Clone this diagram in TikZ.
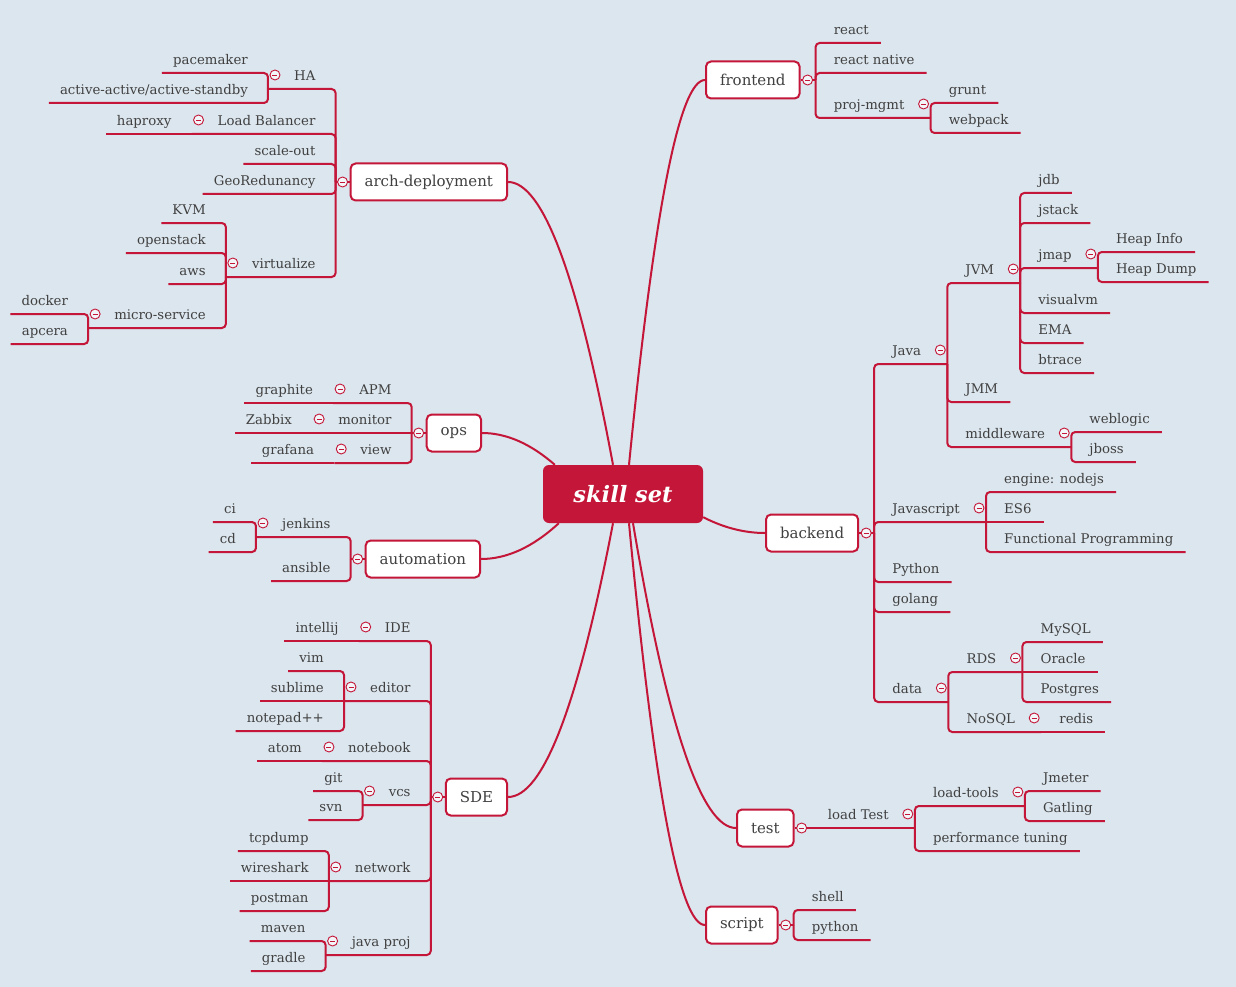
\documentclass[tikz,border=0pt]{standalone}
\usepackage{fontspec}
\setmainfont{DejaVu Serif}
\usetikzlibrary{calc}
\usetikzlibrary{positioning}

\definecolor{bg}{RGB}{220,230,238}
\definecolor{crim}{RGB}{196,22,56}
\definecolor{ink}{RGB}{64,64,64}

\tikzset{
  topic/.style={inner xsep=0pt, inner ysep=5pt, text height=10pt, text depth=3pt,
    text=ink, font=\fontsize{13.3}{15}\selectfont},
  branch/.style={draw=crim, line width=2pt, fill=white, rounded corners=5pt,
    minimum height=37pt, inner xsep=14pt, text=ink, font=\fontsize{15}{17}\selectfont},
  hub/.style={fill=crim, rounded corners=6pt, minimum width=160pt, minimum height=58pt,
    text=white, font=\fontsize{22.5}{24}\selectfont\bfseries\itshape},
  link/.style={draw=crim, line width=2pt},
  elbow/.style={link, rounded corners=4pt},
  fold/.style={circle, draw=crim, line width=0.9pt, fill=white!65!bg, minimum size=10pt,
    inner sep=0pt, path picture={\draw[crim, line width=0.9pt]
      ([xshift=-2.5pt]path picture bounding box.center) --
      ([xshift=2.5pt]path picture bounding box.center);}}
}

% main branches: name, x of inner edge, y, text
\newcommand{\mainR}[4]{%
  \node[branch, anchor=west] (#1) at (#2,#3) {#4};
  \coordinate (#1b) at ([xshift=15pt]#1.east);
  \draw[link] (#1.east) -- (#1b);
  \node[fold] (#1f) at ([xshift=7pt]#1.east) {};}
\newcommand{\mainL}[4]{%
  \node[branch, anchor=east] (#1) at (#2,#3) {#4};
  \coordinate (#1b) at ([xshift=-14pt]#1.west);
  \draw[link] (#1.west) -- (#1b);
  \node[fold] (#1f) at ([xshift=-7pt]#1.west) {};}

% topics: [-- when on the parent's line], bus, name, y of underline, text
\newcommand{\kidR}[5][|-]{%
  \path (#2 |- 0,#4) ++(18pt,0) node[topic, anchor=south west] (#3) {#5};
  \draw[elbow] (#2) #1 ([xshift=12pt]#3.south east);}
\newcommand{\subR}[5][|-]{%
  \path (#2 |- 0,#4) ++(18pt,0) node[topic, anchor=south west] (#3) {#5};
  \coordinate (#3b) at ([xshift=26pt]#3.south east);
  \draw[elbow] (#2) #1 (#3b);
  \node[fold] (#3f) at ([shift={(-7pt,14pt)}]#3b) {};}
\newcommand{\kidL}[5][|-]{%
  \path (#2 |- 0,#4) ++(-20pt,0) node[topic, anchor=south east] (#3) {#5};
  \draw[elbow] (#2) #1 ([xshift=-11pt]#3.south west);}
\newcommand{\subL}[5][|-]{%
  \path (#2 |- 0,#4) ++(-20pt,0) node[topic, anchor=south east] (#3) {#5};
  \coordinate (#3b) at ([xshift=-26pt]#3.south west);
  \draw[elbow] (#2) #1 (#3b);
  \node[fold] (#3f) at ([shift={(7pt,14pt)}]#3b) {};}

% curve from the centre to a branch
\newcommand{\spoke}[2]{%
  \coordinate (qm) at ($(#1)!.5!(#2)$);
  \coordinate (qq) at (qm |- #2);
  \draw[link] (#1) .. controls ($(#1)!.667!(qq)$) and ($(#2)!.667!(qq)$) .. (#2);}

\begin{document}
\begin{tikzpicture}[x=1pt,y=-1pt]
\useasboundingbox[fill=bg] (0,0) rectangle (1236,987);

\node[hub] (hub) at (623,494) {skill set};

% right side
\mainR{front}{705}{80}{frontend}
\kidR{frontb}{react}{43}{react}
\kidR{frontb}{rnative}{73}{react native}
\subR{frontb}{pm}{118}{proj-mgmt}
\kidR{pmb}{grunt}{103}{grunt}
\kidR{pmb}{webpack}{133}{webpack}

\mainR{back}{765}{533}{backend}
\subR{backb}{java}{364}{Java}
\subR{javab}{jvm}{283}{JVM}
\kidR{jvmb}{jdb}{193}{jdb}
\kidR{jvmb}{jstack}{223}{jstack}
\subR{jvmb}{jmap}{268}{jmap}
\kidR{jmapb}{hinfo}{252}{Heap Info}
\kidR{jmapb}{hdump}{282}{Heap Dump}
\kidR{jvmb}{visualvm}{313}{visualvm}
\kidR{jvmb}{ema}{343}{EMA}
\kidR{jvmb}{btrace}{373}{btrace}
\kidR{javab}{jmm}{402}{JMM}
\subR{javab}{mw}{447}{middleware}
\kidR{mwb}{weblogic}{432}{weblogic}
\kidR{mwb}{jboss}{462}{jboss}
\subR{backb}{js}{522}{Javascript}
\kidR{jsb}{nodejs}{492}{engine: nodejs}
\kidR[--]{jsb}{es6}{522}{ES6}
\kidR{jsb}{fp}{552}{Functional Programming}
\kidR{backb}{python}{582}{Python}
\kidR{backb}{golang}{612}{golang}
\subR{backb}{data}{702}{data}
\subR{datab}{rds}{672}{RDS}
\kidR{rdsb}{mysql}{642}{MySQL}
\kidR[--]{rdsb}{oracle}{672}{Oracle}
\kidR{rdsb}{postgres}{702}{Postgres}
\subR{datab}{nosql}{732}{NoSQL}
\kidR[--]{nosqlb}{redis}{732}{redis}

\mainR{test}{736}{828}{test}
\subR[--]{testb}{loadtest}{828}{load Test}
\subR{loadtestb}{ltools}{806}{load-tools}
\kidR{ltoolsb}{jmeter}{791}{Jmeter}
\kidR{ltoolsb}{gatling}{821}{Gatling}
\kidR{loadtestb}{perf}{851}{performance tuning}

\mainR{script}{705}{925}{script}
\kidR{scriptb}{shell}{910}{shell}
\kidR{scriptb}{pyth}{940}{python}

% left side
\mainL{arch}{508}{182}{arch-deployment}
\subL{archb}{ha}{89}{HA}
\kidL{hab}{pacemaker}{73}{pacemaker}
\kidL{hab}{aa}{103}{active-active/active-standby}
\subL{archb}{lb}{134}{Load Balancer}
\kidL[--]{lbb}{haproxy}{134}{haproxy}
\kidL{archb}{scale}{164}{scale-out}
\kidL{archb}{geo}{194}{GeoRedunancy}
\subL{archb}{virt}{277}{virtualize}
\kidL{virtb}{kvm}{223}{KVM}
\kidL{virtb}{openstack}{253}{openstack}
\kidL{virtb}{aws}{284}{aws}
\subL{virtb}{micro}{328}{micro-service}
\kidL{microb}{docker}{314}{docker}
\kidL{microb}{apcera}{344}{apcera}

\mainL{ops}{482}{433}{ops}
\subL{opsb}{apm}{403}{APM}
\kidL[--]{apmb}{graphite}{403}{graphite}
\subL[--]{opsb}{monitor}{433}{monitor}
\kidL[--]{monitorb}{zabbix}{433}{Zabbix}
\subL{opsb}{view}{463}{view}
\kidL[--]{viewb}{grafana}{463}{grafana}

\mainL{auto}{481}{559}{automation}
\subL{autob}{jenkins}{537}{jenkins}
\kidL{jenkinsb}{ci}{522}{ci}
\kidL{jenkinsb}{cd}{552}{cd}
\kidL{autob}{ansible}{581}{ansible}

\mainL{sde}{508}{797}{SDE}
\subL{sdeb}{ide}{641}{IDE}
\kidL[--]{ideb}{intellij}{641}{intellij}
\subL{sdeb}{editor}{701}{editor}
\kidL{editorb}{vim}{671}{vim}
\kidL[--]{editorb}{sublime}{701}{sublime}
\kidL{editorb}{notepad}{731}{notepad++}
\subL{sdeb}{notebook}{761}{notebook}
\kidL[--]{notebookb}{atom}{761}{atom}
\subL{sdeb}{vcs}{805}{vcs}
\kidL{vcsb}{git}{791}{git}
\kidL{vcsb}{svn}{820}{svn}
\subL{sdeb}{network}{881}{network}
\kidL{networkb}{tcpdump}{851}{tcpdump}
\kidL[--]{networkb}{wireshark}{881}{wireshark}
\kidL{networkb}{postman}{911}{postman}
\subL{sdeb}{jproj}{955}{java proj}
\kidL{jprojb}{maven}{941}{maven}
\kidL{jprojb}{gradle}{971}{gradle}

% curves from the centre
\coordinate (s1) at ([xshift=6pt]hub.north);
\coordinate (s2) at ([xshift=-10pt]hub.north);
\coordinate (s3) at ([xshift=12pt]hub.north west);
\coordinate (s4) at ([xshift=16pt]hub.south west);
\coordinate (s5) at ([xshift=-10pt]hub.south);
\coordinate (s6) at ([xshift=6pt]hub.south);
\coordinate (s7) at ([xshift=10pt]hub.south);
\coordinate (s8) at ([yshift=6pt]hub.south east);
\spoke{s1}{front.west}
\spoke{s2}{arch.east}
\spoke{s3}{ops.east}
\spoke{s4}{auto.east}
\spoke{s5}{sde.east}
\spoke{s6}{script.west}
\spoke{s7}{test.west}
\spoke{s8}{back.west}
\end{tikzpicture}
\end{document}
